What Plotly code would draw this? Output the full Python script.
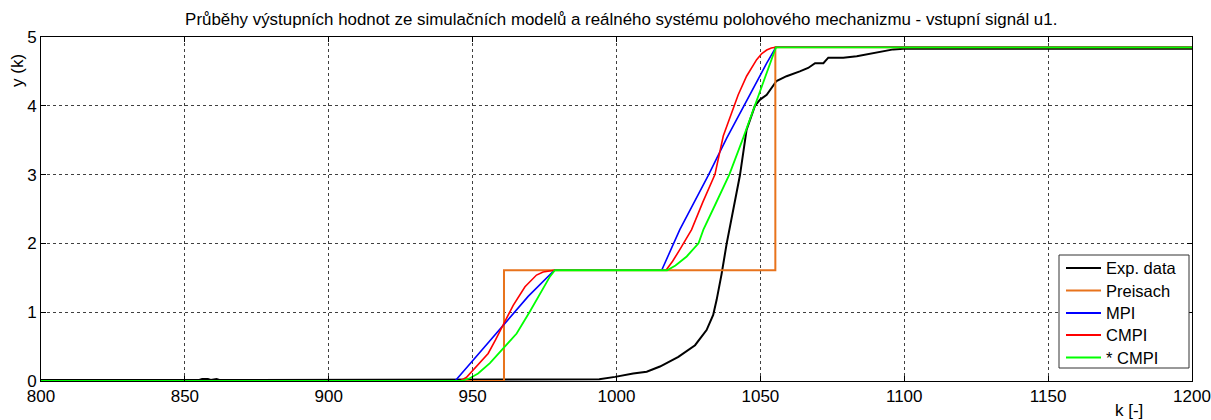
import plotly.graph_objects as go

# Experimental response of the positioning mechanism
k_exp = [800, 850, 855, 856, 858, 859, 861, 862, 900, 950, 987, 994, 999.5, 1005.8, 1010.5,
         1015.1, 1021.5, 1027.3, 1031.3, 1033.6, 1034.8, 1036.5, 1038.3, 1040.5, 1042.9,
         1045.2, 1048.1, 1049.9, 1052.2, 1055.6, 1059.1, 1063.7, 1066.6, 1069.0, 1071.9,
         1073.6, 1078.8, 1083.5, 1088.1, 1092.7, 1096.2, 1099.7, 1150, 1200]
y_exp = [0.015, 0.015, 0.015, 0.028, 0.028, 0.015, 0.028, 0.015, 0.015, 0.015, 0.015, 0.025,
         0.06, 0.11, 0.135, 0.21, 0.35, 0.52, 0.74, 0.96, 1.18, 1.55, 2.0, 2.45, 2.99,
         3.65, 4.0, 4.09, 4.16, 4.36, 4.43, 4.50, 4.55, 4.62, 4.62, 4.70, 4.70, 4.72, 4.76,
         4.80, 4.82, 4.83, 4.83, 4.83]

# Preisach model
k_pre = [800, 960.9, 960.9, 1055.2, 1055.2, 1200]
y_pre = [0, 0, 1.61, 1.61, 4.85, 4.85]

# MPI model
k_mpi = [800, 943.9, 949.7, 960.7, 969.3, 978.4, 1015.7, 1022.0, 1031.9, 1038.3, 1043.5,
         1048.7, 1052.2, 1055.4, 1200]
y_mpi = [0, 0, 0.28, 0.815, 1.23, 1.61, 1.61, 2.2, 2.99, 3.53, 3.94, 4.33, 4.62, 4.85, 4.85]

# CMPI model
k_cmpi = [800, 945.6, 947.8, 949.7, 952.5, 955.4, 958.0, 960.7, 964.1, 968.2, 970.5, 972.2,
          974.5, 976.3, 978.4, 1017.2, 1019.5, 1022.0, 1026.1, 1030.0, 1034.2, 1037.1,
          1040.0, 1042.3, 1045.2, 1048.7, 1050.5, 1052.2, 1053.8, 1055.4, 1200]
y_cmpi = [0, 0, 0.05, 0.135, 0.26, 0.40, 0.60, 0.815, 1.1, 1.37, 1.47, 1.54, 1.585, 1.6, 1.61,
          1.61, 1.74, 1.91, 2.2, 2.6, 3.0, 3.56, 3.90, 4.16, 4.43, 4.67, 4.76, 4.81, 4.84,
          4.85, 4.85]

# * CMPI model
k_scmpi = [800, 946.0, 949.0, 951.9, 956.0, 960.7, 965.3, 969.9, 974.0, 976.9, 978.6, 1017.6,
           1020.5, 1024.4, 1028.5, 1030.2, 1034.5, 1039.2, 1044.0, 1047.5, 1049.9, 1052.7,
           1055.4, 1200]
y_scmpi = [0, 0, 0.04, 0.11, 0.26, 0.48, 0.69, 1.01, 1.30, 1.52, 1.61, 1.61, 1.68, 1.81, 2.0,
           2.2, 2.58, 3.0, 3.53, 3.94, 4.19, 4.55, 4.85, 4.85]

series_names = ["Exp. data", "Preisach", "MPI", "CMPI", "* CMPI"]
series_colors = ["#000000", "#E8731C", "#0000FF", "#FF0000", "#00FF00"]
series_widths = [2, 2, 1.6, 1.6, 1.8]

x_ticks = [800, 850, 900, 950, 1000, 1050, 1100, 1150, 1200]
y_ticks = [0, 1, 2, 3, 4, 5]

FONT = "Liberation Sans, Arial, sans-serif"
W, H = 1211, 420
ML, MR, MT, MB = 41, 19, 37, 39
PW, PH = W - ML - MR, H - MT - MB


def px_x(p):
    """Pixel column -> paper x."""
    return (p - ML) / PW


def px_y(p):
    """Pixel row -> paper y."""
    return (H - MB - p) / PH


fig = go.Figure()
for name, kx, yy, col, w in zip(series_names,
                                [k_exp, k_pre, k_mpi, k_cmpi, k_scmpi],
                                [y_exp, y_pre, y_mpi, y_cmpi, y_scmpi],
                                series_colors, series_widths):
    fig.add_trace(go.Scatter(x=kx, y=yy, mode="lines", name=name, showlegend=False,
                             line=dict(color=col, width=w)))

axis_common = dict(
    showline=True, linecolor="black", linewidth=1, mirror="allticks",
    ticks="inside", ticklen=5, tickcolor="black",
    showgrid=True, gridcolor="rgba(0,0,0,0.75)", gridwidth=1, griddash="dot",
    zeroline=False, automargin=False,
    tickfont=dict(family=FONT, size=17, color="black"),
)

fig.update_xaxes(range=[800, 1200], tickvals=x_ticks, ticktext=[str(v) for v in x_ticks],
                 **axis_common)
fig.update_yaxes(range=[0, 5], tickvals=y_ticks, ticktext=[str(v) for v in y_ticks],
                 **axis_common)

# Legend box with line samples and labels (lower right corner of the axes)
shapes = [dict(type="rect", xref="paper", yref="paper",
               x0=px_x(1059), x1=px_x(1189), y0=px_y(368), y1=px_y(255),
               line=dict(color="#333", width=1), fillcolor="white", layer="above")]
annotations = []
row_y = [268, 290.5, 313, 335, 357.5]
for name, col, ry in zip(series_names, series_colors, row_y):
    shapes.append(dict(type="line", xref="paper", yref="paper",
                       x0=px_x(1066), x1=px_x(1101), y0=px_y(ry), y1=px_y(ry),
                       line=dict(color=col, width=2), layer="above"))
    annotations.append(dict(text=name, xref="paper", yref="paper",
                            x=px_x(1104), y=px_y(ry), xanchor="left", yanchor="middle",
                            showarrow=False,
                            font=dict(family=FONT, size=16.5, color="black")))

annotations += [
    dict(text="k [-]", xref="paper", yref="paper", x=px_x(1129), y=px_y(410),
         xanchor="center", yanchor="middle", showarrow=False,
         font=dict(family=FONT, size=17, color="black")),
    dict(text="y (k)", xref="paper", yref="paper", x=px_x(18), y=px_y(71),
         xanchor="center", yanchor="middle", showarrow=False, textangle=-90,
         font=dict(family=FONT, size=17, color="black")),
]

fig.update_layout(
    width=W, height=H, autosize=False,
    margin=dict(l=ML, r=MR, t=MT, b=MB, pad=0),
    paper_bgcolor="white", plot_bgcolor="white",
    font=dict(family=FONT, color="black"),
    showlegend=False,
    title=dict(text="Průběhy výstupních hodnot ze simulačních modelů a reálného systému polohového mechanizmu - vstupní signál u1.",
               x=0.513, xanchor="center", y=0.955, yanchor="middle",
               font=dict(family=FONT, size=16.9, color="black")),
    shapes=shapes,
    annotations=annotations,
)

fig.write_html("out.html")
